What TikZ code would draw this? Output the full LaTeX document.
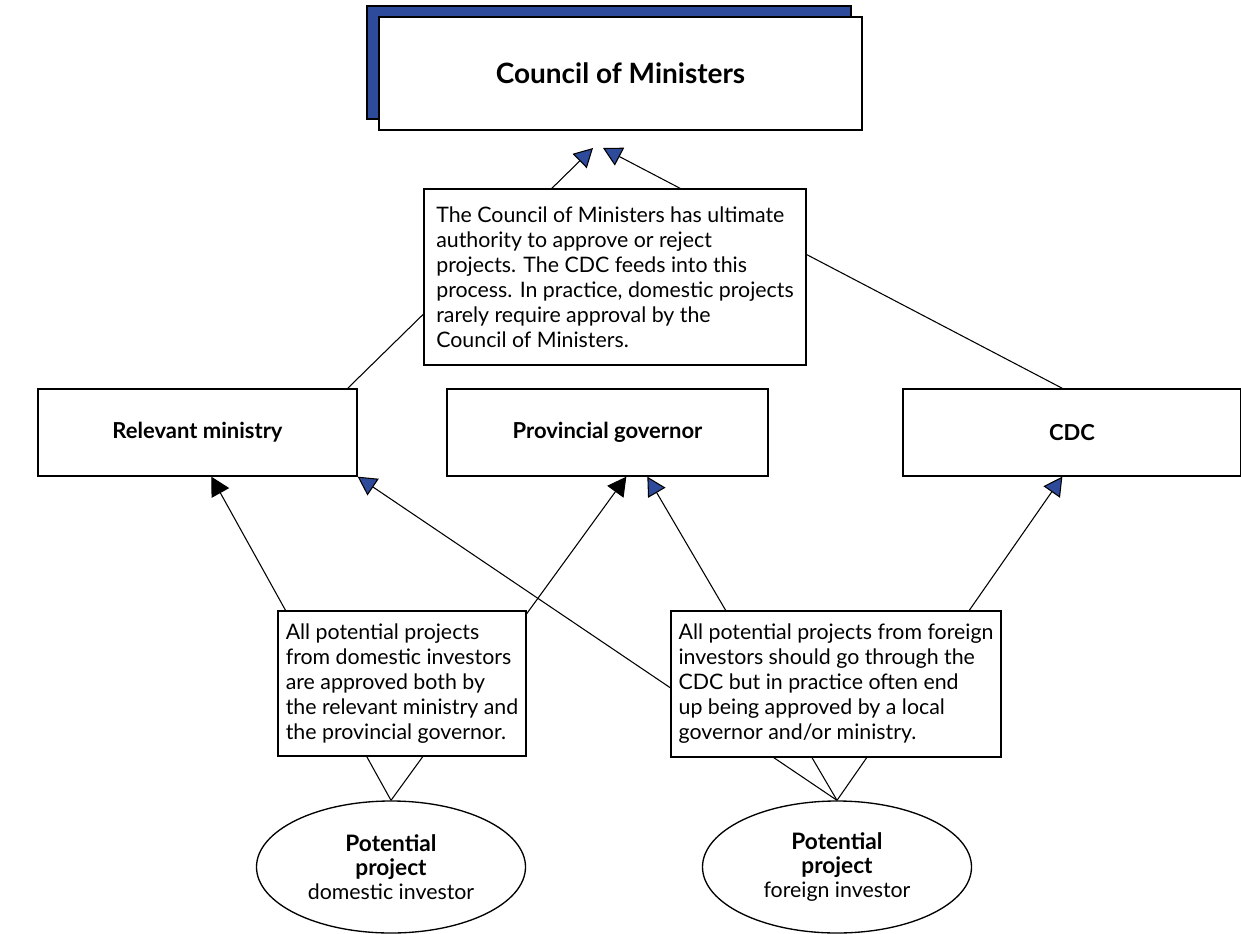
\documentclass[tikz,border=0pt]{standalone}
\usepackage{fontspec}
\setmainfont{Lato}
\usetikzlibrary{arrows.meta,shapes.geometric,calc}
\definecolor{tipblue}{RGB}{46,74,154}
\pgfdeclarelayer{bg}
\pgfsetlayers{bg,main}
\tikzset{
  box/.style={draw=black, line width=1pt, fill=white, inner sep=0pt, align=center},
  tbox/.style={draw=black, line width=1pt, fill=white, inner sep=0pt, align=left,
    font=\fontsize{16}{18.75}\selectfont},
  lbl/.style={font=\fontsize{16.5}{19}\selectfont\bfseries},
  ell/.style={draw=black, line width=1pt, fill=white, ellipse, inner sep=0pt, align=center,
    font=\fontsize{16}{18}\selectfont},
  conn/.style={line width=0.8pt},
  tipB/.style={conn, -{Triangle[length=14pt, width=15pt, fill=tipblue]}},
  tipK/.style={conn, -{Triangle[length=14pt, width=15pt, fill=black]}}
}
\begin{document}
\begin{tikzpicture}[x=0.75pt, y=-0.75pt]
\useasboundingbox (0,0) rectangle (1241,934);
% Council of Ministers with shadow
\node[draw=black, line width=0.8pt, fill=tipblue, minimum width=484*0.75pt, minimum height=113*0.75pt, inner sep=0pt]
  (cmshadow) at (609,62.5) {};
\node[box, minimum width=483*0.75pt, minimum height=113*0.75pt, font=\fontsize{21}{25}\selectfont\bfseries]
  (cm) at (620.5,73.5) {Council of Ministers};
\coordinate (cmL) at (593,148);
\coordinate (cmR) at (603,148);
% text box 1
\node[tbox, minimum width=382*0.75pt, minimum height=176*0.75pt] (t1) at (615,277)
  {The Council of Ministers has ultimate\\authority to approve or reject\\projects. The CDC feeds into this\\process. In practice, domestic projects\\rarely require approval by the\\Council of Ministers.};
% middle boxes
\node[box, lbl, minimum width=319*0.75pt, minimum height=87*0.75pt] (rm) at (197.5,432.5) {Relevant ministry};
\node[box, lbl, minimum width=321*0.75pt, minimum height=87*0.75pt] (pg) at (607.5,432.5) {Provincial governor};
\node[box, lbl, minimum width=338*0.75pt, minimum height=87*0.75pt] (cdc) at (1072,432.5) {CDC};
% text boxes 2 and 3
\node[tbox, minimum width=248*0.75pt, minimum height=145*0.75pt] (t2) at (402,683.5)
  {All potential projects\\from domestic investors\\are approved both by\\the relevant ministry and\\the provincial governor.};
\node[tbox, minimum width=330*0.75pt, minimum height=146*0.75pt] (t3) at (836,684)
  {All potential projects from foreign\\investors should go through the\\CDC but in practice often end\\up being approved by a local\\governor and/or ministry.};
% ellipses
\node[ell, minimum width=269*0.75pt, minimum height=132*0.75pt] (e1) at (391,867)
  {\textbf{\fontsize{17}{19}\selectfont Potential}\\\textbf{\fontsize{17}{19}\selectfont project}\\domestic investor};
\node[ell, minimum width=269*0.75pt, minimum height=132*0.75pt] (e2) at (837,867)
  {\textbf{\fontsize{17}{19}\selectfont Potential}\\\textbf{\fontsize{17}{19}\selectfont project}\\foreign investor};
% connectors
\begin{pgfonlayer}{bg}
\draw[tipB] ($(rm.north east)+(-10,0)$) -- (cmL);
\draw[tipB] ($(cdc.north west)+(160,0)$) -- (cmR);
\draw[tipK] (e1.north) -- ($(rm.south west)+(174,0)$);
\draw[tipK] (e1.north) -- ($(pg.south west)+(180,0)$);
\draw[tipB] (e2.north) -- (rm.south east);
\draw[tipB] (e2.north) -- ($(pg.south west)+(201,0)$);
\draw[tipB] (e2.north) -- ($(cdc.south west)+(160,0)$);
\end{pgfonlayer}
\end{tikzpicture}
\end{document}
